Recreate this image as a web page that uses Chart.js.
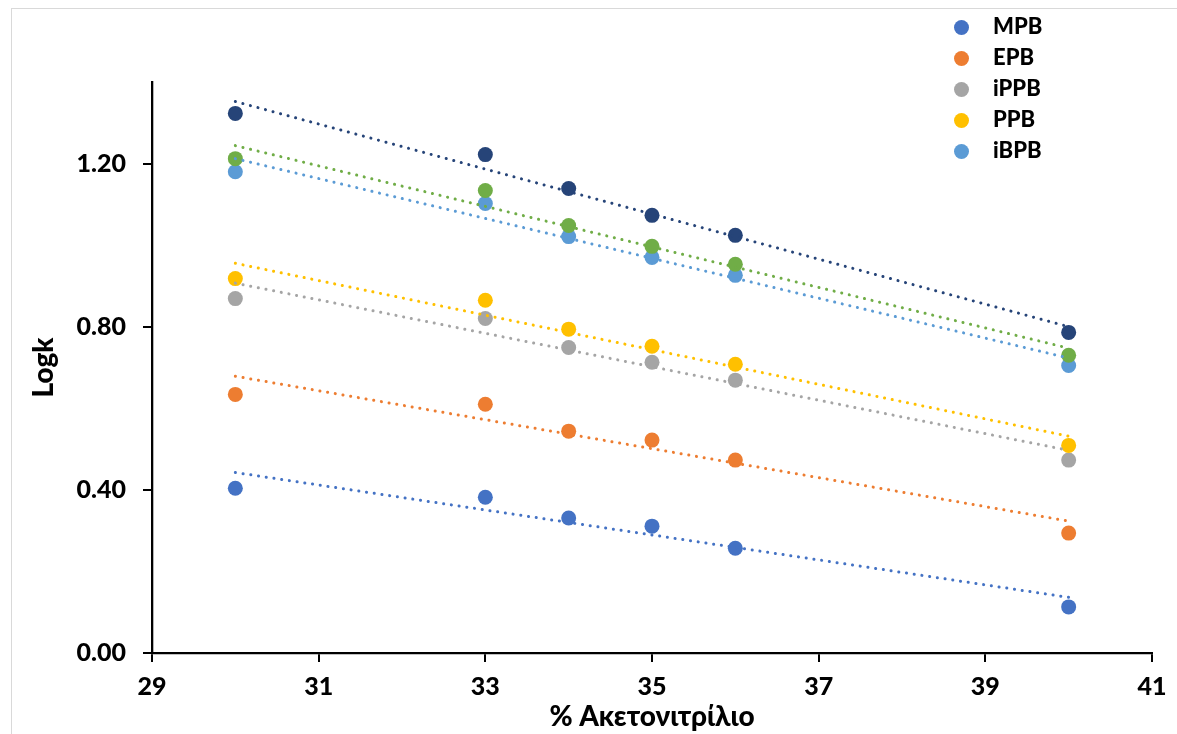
<!DOCTYPE html>
<html>
<head>
<meta charset="utf-8">
<script src="https://cdn.jsdelivr.net/npm/chart.js@4.4.0/dist/chart.umd.min.js"></script>
<style>
  html, body { margin: 0; padding: 0; background: #fff; }
  #wrap { position: relative; width: 1177px; height: 734px; overflow: hidden; }
  #frame { position: absolute; left: 11px; top: 8px; width: 1200px; height: 800px; border: 1px solid #d9d9d9; }
  #myChart { position: absolute; left: 0; top: 0; }
  #legend { position: absolute; left: 954px; top: 10px; font-family: Lato, sans-serif; font-weight: 900; font-size: 22px; color: #000; }
  #legend div { height: 31px; line-height: 31px; white-space: nowrap; }
  #legend span { display: inline-block; width: 15px; height: 15px; border-radius: 50%; margin-right: 24px; vertical-align: -1px; }
</style>
</head>
<body>
<div id="wrap">
  <div id="frame"></div>
  <canvas id="myChart" width="1177" height="734"></canvas>
  <div id="legend"></div>
</div>
<script>
// acetonitrile %
const acn = [30, 33, 34, 35, 36, 40];

// log k per compound
const mpb  = [0.404, 0.382, 0.331, 0.311, 0.257, 0.113];
const epb  = [0.634, 0.610, 0.544, 0.522, 0.473, 0.294];
const ippb = [0.869, 0.820, 0.749, 0.713, 0.669, 0.473];
const ppb  = [0.918, 0.865, 0.794, 0.752, 0.708, 0.509];
const ibpb = [1.180, 1.102, 1.021, 0.970, 0.926, 0.705];
const bpb  = [1.212, 1.134, 1.048, 0.997, 0.953, 0.730];
const bzpb = [1.323, 1.222, 1.139, 1.073, 1.024, 0.786];

const names  = ['MPB', 'EPB', 'iPPB', 'PPB', 'iBPB', 'BPB', 'BzPB'];
const series = [mpb, epb, ippb, ppb, ibpb, bpb, bzpb];
const colors = ['#4472C4', '#ED7D31', '#A5A5A5', '#FFC000', '#5B9BD5', '#70AD47', '#264478'];
const inLegend = ['MPB', 'EPB', 'iPPB', 'PPB', 'iBPB'];

const xTicks = [29, 31, 33, 35, 37, 39, 41];
const yTicks = [0, 0.4, 0.8, 1.2];

// least squares trendline, like excel's linear trendline
function trend(xs, ys) {
    const n = xs.length;
    const mx = xs.reduce((a, b) => a + b, 0) / n;
    const my = ys.reduce((a, b) => a + b, 0) / n;
    let sxy = 0, sxx = 0;
    for (let i = 0; i < n; i++) {
        sxy += (xs[i] - mx) * (ys[i] - my);
        sxx += (xs[i] - mx) * (xs[i] - mx);
    }
    const b = sxy / sxx;
    const x0 = Math.min(...xs), x1 = Math.max(...xs);
    return [{x: x0, y: my + b * (x0 - mx)}, {x: x1, y: my + b * (x1 - mx)}];
}

const datasets = [];
// series drawn later end up on top (order: higher = further back)
series.forEach(function(s, i) {
    datasets.push({
        type: 'scatter',
        label: names[i],
        data: acn.map((x, j) => ({x: x, y: s[j]})),
        backgroundColor: colors[i],
        borderColor: colors[i],
        pointRadius: 7.5,
        pointHoverRadius: 7.5,
        borderWidth: 0,
        order: 20 - i
    });
});
series.forEach(function(s, i) {
    datasets.push({
        type: 'line',
        label: names[i] + ' trend',
        data: trend(acn, s),
        borderColor: colors[i],
        borderWidth: 3,
        borderDash: [0.1, 7.7],
        borderCapStyle: 'round',
        pointRadius: 0,
        fill: false,
        order: 1
    });
});

const tickFont = {family: 'Lato', size: 25, weight: '900'};
const titleFont = {family: 'Lato', size: 28, weight: '900'};

const ctx = document.getElementById('myChart');

const myChart = new Chart(ctx, {
    data: {datasets: datasets},
    options: {
        responsive: false,
        animation: false,
        layout: {padding: {left: 0, top: 82, right: 25, bottom: 0}},
        plugins: {
            legend: {display: false},
            tooltip: {enabled: false}
        },
        scales: {
            x: {
                type: 'linear',
                min: 29,
                max: 41,
                afterBuildTicks: function(scale) { scale.ticks = xTicks.map(v => ({value: v})); },
                afterFit: function(scale) { scale.height = 81; },
                border: {color: '#000', width: 2.3},
                grid: {drawOnChartArea: false, color: '#000', lineWidth: 2, tickLength: 9},
                ticks: {color: '#000', font: tickFont, padding: 10, maxRotation: 0},
                title: {display: true, text: '% Ακετονιτρίλιο', color: '#000', font: titleFont, padding: {top: 0, bottom: 0}}
            },
            y: {
                type: 'linear',
                min: 0,
                max: 1.4,
                afterBuildTicks: function(scale) { scale.ticks = yTicks.map(v => ({value: v})); },
                afterFit: function(scale) { scale.width = 152; },
                border: {color: '#000', width: 2.3},
                grid: {drawOnChartArea: false, color: '#000', lineWidth: 2, tickLength: 9},
                ticks: {color: '#000', font: tickFont, padding: 17, callback: v => Number(v).toFixed(2)},
                title: {display: true, text: 'Logk', color: '#000', font: titleFont, padding: {top: 27, bottom: 0}}
            }
        }
    }
});

// legend box, only the first five compounds
const legendBox = document.getElementById('legend');
inLegend.forEach(function(name) {
    const i = names.indexOf(name);
    const row = document.createElement('div');
    const dot = document.createElement('span');
    dot.style.background = colors[i];
    row.appendChild(dot);
    row.appendChild(document.createTextNode(name));
    legendBox.appendChild(row);
});
</script>
</body>
</html>
